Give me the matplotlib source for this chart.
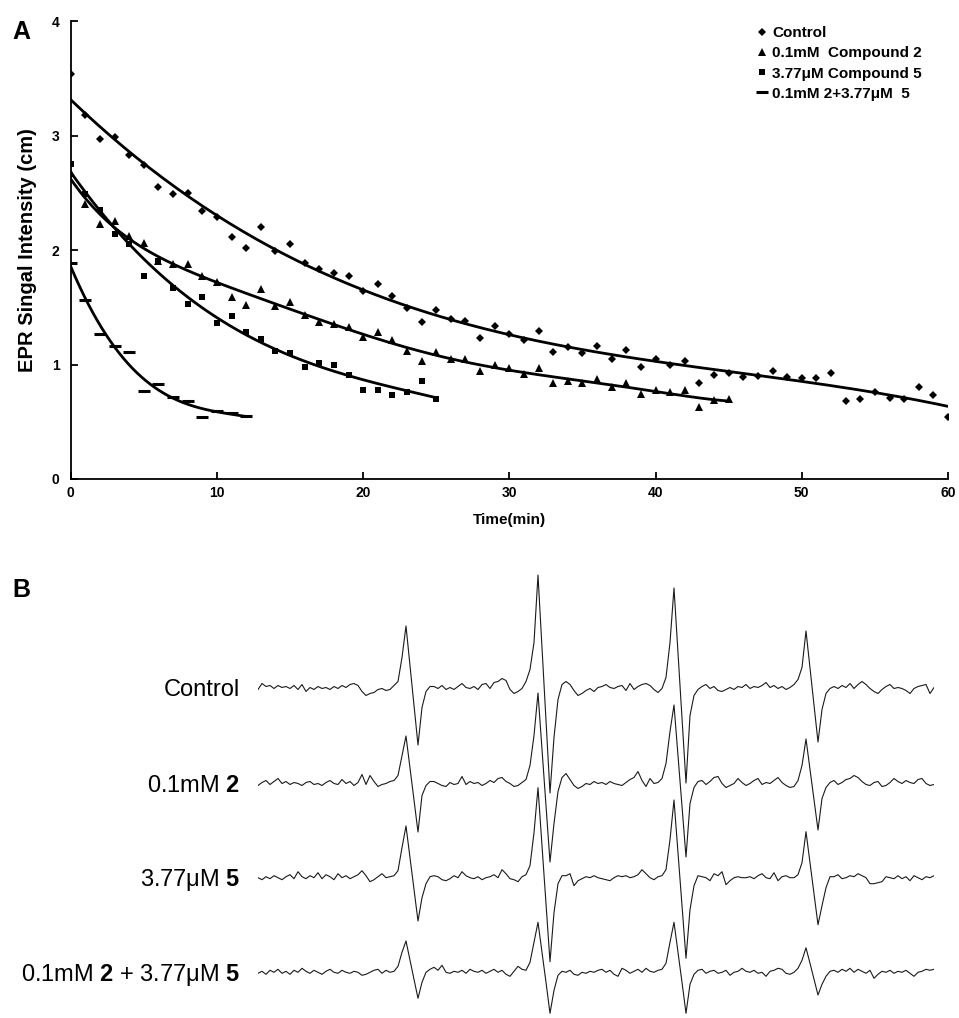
import matplotlib
matplotlib.use('Agg')
import matplotlib.pyplot as plt
import numpy as np

plt.rcParams['font.family'] = ['Liberation Sans', 'DejaVu Sans']
plt.rcParams['mathtext.fontset'] = 'custom'
plt.rcParams['mathtext.rm'] = 'Liberation Sans'
plt.rcParams['mathtext.bf'] = 'Liberation Sans:bold'

# Panel A - EPR signal decay (cm) per minute
t_control = np.arange(0, 61)
y_control = [3.54, 3.18, 2.97, 2.99, 2.83, 2.74, 2.55, 2.49, 2.50, 2.34,
             2.29, 2.11, 2.02, 2.20, 1.99, 2.05, 1.89, 1.83, 1.80, 1.77,
             1.64, 1.70, 1.60, 1.49, 1.37, 1.48, 1.40, 1.38, 1.23, 1.34,
             1.27, 1.21, 1.29, 1.11, 1.15, 1.10, 1.16, 1.05, 1.13, 0.98,
             1.05, 1.00, 1.03, 0.84, 0.91, 0.93, 0.89, 0.90, 0.94, 0.89,
             0.88, 0.88, 0.93, 0.68, 0.70, 0.76, 0.71, 0.70, 0.80, 0.73, 0.54]
t_cmp2 = np.arange(0, 46)
y_cmp2 = [2.67, 2.40, 2.23, 2.25, 2.12, 2.06, 1.90, 1.88, 1.88, 1.77,
          1.72, 1.59, 1.52, 1.66, 1.51, 1.55, 1.43, 1.37, 1.35, 1.33,
          1.24, 1.28, 1.21, 1.12, 1.03, 1.11, 1.05, 1.05, 0.94, 1.00,
          0.97, 0.92, 0.97, 0.84, 0.86, 0.84, 0.87, 0.80, 0.84, 0.74,
          0.78, 0.76, 0.78, 0.63, 0.69, 0.70]
t_cmp5 = np.arange(0, 26)
y_cmp5 = [2.75, 2.49, 2.35, 2.14, 2.05, 1.77, 1.90, 1.67, 1.53, 1.59,
          1.36, 1.42, 1.28, 1.22, 1.12, 1.10, 0.98, 1.01, 1.00, 0.91,
          0.78, 0.78, 0.73, 0.76, 0.86, 0.70]
t_combo = np.arange(0, 13)
y_combo = [1.89, 1.56, 1.27, 1.16, 1.11, 0.77, 0.83, 0.72, 0.68, 0.54,
           0.59, 0.58, 0.55]
# polynomial trendline order for each series
fit_order = [3, 6, 3, 3]

legend_labels = ['Control', '0.1mM  Compound 2', '3.77μM Compound 5',
                 '0.1mM 2+3.77μM  5']

spec_control = [
    -2, 4, 1, 2, -1, 2, 0, 1, -1, 2, -2, 3, -4, 0, -2, 1, -1, 0, -2, 1,
    -1, 2, 0, 3, 4, 2, -4, -8, -6, -5, -2, -1, -3, -2,
    2, 6, 30, 61.5, 22, -18, -57.5, -20, -4, 1,
    1, -1, 2, -2, 0, -2, 1, 4, 0, -1, 1, -2, 3, 4, -1, 5, 6, 9, 7, -2, -6, -4, -1,
    6, 18, 45, 112.5, 40, -33, -105.5, -50, -12, 3,
    6, 3, -3, -8, -6, -3, -1, -4, 0, 1, 3, 0, -1, 1, 2, -3, 4, -2, 1, 3, 4, 2, -2, -5,
    -1, 10, 45, 99.5, 34.5, -30.5, -95.5, -28, -8, -2,
    1, 3, -1, 1, -3, -4, -2, 0, -2, 1, 0, 3, -1, 1, 0, 2, 5, 0, 2, -1, 1, -2, 0,
    3, 8, 20, 56.5, 19.5, -17.5, -54.5, -22, -6, -1,
    1, -1, 2, 0, 4, -1, 3, 6, 3, -1, -4, -6, -2, 1, 3, -1, 0, -1, -3, -6, -1, 1, 2, 3, -6, 0]
spec_cmp2 = [
    -2, 1, 3, -1, 2, 5, 0, 2, -1, 1, 0, -2, 1, 2, -1, 0, -2, 1, 3, 0,
    -1, 4, 0, 2, -2, 1, 9, -1, 8, 2, -3, -1, 0, 2,
    3, 8, 28, 47.5, 15.5, -16.5, -48.5, -12, -2, 2,
    2, 0, -2, -3, 1, -1, 0, 7, -1, 2, 0, 1, -2, 0, 3, 1, 5, 6, 2, 0, -3, -2, 1,
    4, 18, 48, 90.5, 34, -22, -78.5, -40, -8, 6,
    10, 4, -2, -5, -3, 0, -1, 2, 0, 1, -1, 2, 0, -1, -2, 1, 4, 6, 12, 3, -3, 5, 0, 1,
    5, 20, 52, 78.5, 28, -23, -73.5, -20, -4, 2,
    3, -1, 2, 6, 7, 0, -4, -2, 0, 5, 1, -2, 0, 3, 5, -1, 1, 0, 3, 6, 1, -2, -4,
    -3, 3, 18, 44.5, 14, -16, -46.5, -15, -4, 1,
    3, -1, 1, 4, 5, 8, 6, 2, -1, -2, 1, 2, -3, -2, 1, 5, 2, 0, 3, 1, 0, 4, 5, 0, -2, -1]
spec_cmp5 = [
    0, -2, 1, -1, 2, 0, -2, 1, 3, -1, 6, 1, -1, 2, 0, 5, -1, 3, 1, -2,
    4, 0, 2, -1, 1, 3, 7, 2, -4, -2, 1, 4, 0, 1,
    2, 7, 30, 51.7, 20, -12, -43.3, -20, -6, 1,
    2, 1, -2, -3, -1, 2, 0, 6, 2, 0, -1, 1, -2, 0, 1, 3, 0, 8, 4, -1, -2, -4, 1,
    3, 12, 45, 90, 32, -26, -84, -35, -6, 2,
    2, 4, -8, -3, -1, 1, 0, 2, 0, -1, -2, -3, 0, 2, 1, 2, 0, 1, 3, 8, 4, 0, -2, 1,
    2, 8, 38, 77.7, 25, -28, -80.6, -32, -8, 2,
    1, 0, -3, 4, 2, 6, -7, -3, 0, 1, 0, 0, 1, -1, 2, 4, 0, -1, 5, -3, 1, 2, 0,
    0, 3, 15, 46, 15, -16, -47, -28, -10, 1,
    1, 3, -1, 0, 2, 1, 4, 2, 0, -6, -6, -5, -4, 1, 0, -1, 2, -1, 1, -3, 2, 0, -2, 1, 0, 2]
spec_combo = [
    -1, 1, -2, 2, 0, 3, -1, 1, -2, 2, 0, 4, 1, -1, 2, 0, -2, 1, 3, 0,
    -1, 2, 0, -1, 1, 0, -3, -2, 0, 2, 3, -1, 2, 0,
    1, 6, 20, 31.3, 12, -7, -26, -10, 0, 3,
    5, 2, 7, 0, -1, 1, 0, 2, -1, 3, 1, 0, 2, -1, 1, 3, 0, 2, -2, -4, 1, 6, 3,
    2, 10, 30, 50, 20, -10, -41, -18, -3, 1,
    0, 2, -2, -3, 0, -1, 1, 0, 2, 3, 0, 2, -2, -4, 4, 2, -1, 1, 3, 0, 4, 1, 0, 2,
    3, 9, 30, 50, 20, -10, -41, -12, -2, 2,
    3, -1, 1, 2, -1, 0, 2, -3, 0, 1, 4, 1, 0, 2, -1, 0, -4, 1, 2, 4, 3, -1, -2,
    0, 4, 12, 24.5, 9, -7, -22.7, -12, -4, 1,
    2, 0, 3, 1, 4, 0, 3, 1, -1, 2, -6, -2, 1, 0, 2, -1, 1, 0, 2, -1, -4, 0, 1, 3, 2, 3]
spec_labels = ['Control', '0.1mM $\\mathbf{2}$', '3.77μM $\\mathbf{5}$',
               '0.1mM $\\mathbf{2}$ + 3.77μM $\\mathbf{5}$']

W, H = 959, 1018
fig = plt.figure(figsize=(W / 100, H / 100), dpi=100)

# ---- panel A
ax = fig.add_axes([70.7 / W, 1 - 479 / H, (948 - 70.7) / W, (479 - 21) / H])
series = [(t_control, y_control, 'D', 4.2, 0),
          (t_cmp2, y_cmp2, '^', 5.4, 0),
          (t_cmp5, y_cmp5, 's', 4.2, 0),
          (t_combo, y_combo, '_', 8, 2.2)]
handles = []
for (t, y, mk, ms, mew), lab, deg in zip(series, legend_labels, fit_order):
    h, = ax.plot(t, y, linestyle='none', marker=mk, ms=ms, color='black',
                 mew=mew, label=lab)
    handles.append(h)
    coef = np.polyfit(t, y, deg)
    tt = np.linspace(t[0], t[-1], 200)
    ax.plot(tt, np.polyval(coef, tt), color='black', lw=2.0)

ax.set_xlim(0, 60)
ax.set_ylim(0, 4)
ax.set_xticks(range(0, 61, 10))
ax.set_yticks(range(0, 5))
for s in ['top', 'right']:
    ax.spines[s].set_visible(False)
for s in ['left', 'bottom']:
    ax.spines[s].set_linewidth(1.3)
ax.tick_params(direction='in', length=5, width=1.3, labelsize=10)
ax.tick_params(axis='x', pad=5)
ax.tick_params(axis='y', pad=8)
for lbl in ax.get_xticklabels() + ax.get_yticklabels():
    lbl.set_fontweight('bold')
ax.set_xlabel('Time(min)', fontsize=11, fontweight='bold')
ax.xaxis.set_label_coords(0.5, -0.075)
ax.set_ylabel('EPR Singal Intensity (cm)', fontsize=14.5, fontweight='bold')
ax.yaxis.set_label_coords(-0.038, 0.5)

ax.legend(handles=handles, loc='upper left', bbox_to_anchor=(0.774, 1.005),
          frameon=False, handlelength=0.6, handletextpad=0.35, borderpad=0,
          labelspacing=0.4, prop={'weight': 'bold', 'size': 11})

fig.text(12 / W, 1 - 39 / H, 'A', fontsize=18, fontweight='bold')
fig.text(12 / W, 1 - 597 / H, 'B', fontsize=18, fontweight='bold')

# ---- panel B
axb = fig.add_axes([258 / W, 0, 676 / W, 458 / H])
axb.set_xlim(0, 169)
axb.set_ylim(-1018, -560)
axb.axis('off')
trace_base = [687.5, 783.5, 877.7, 972.3]
for spec, base, lab in zip([spec_control, spec_cmp2, spec_cmp5, spec_combo],
                           trace_base, spec_labels):
    field = np.arange(len(spec))
    axb.plot(field, np.array(spec) - base, color='#1a1a1a', lw=0.8)
    fig.text(240 / W, 1 - (base + 8.5) / H, lab, fontsize=17,
             ha='right', va='baseline')

fig.savefig('out.png', dpi=100)
